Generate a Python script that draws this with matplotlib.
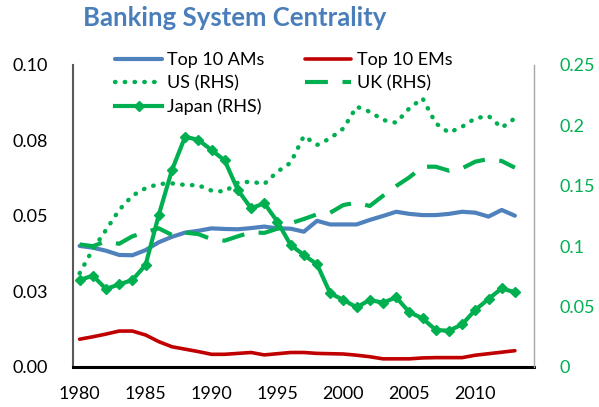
import matplotlib.pyplot as plt
import numpy as np

plt.rcParams['font.family'] = ['Lato', 'DejaVu Sans']

years = np.arange(1980, 2014)

# left axis
top10_ams = [0.0401, 0.0395, 0.0385, 0.0371, 0.0370, 0.0387, 0.0413, 0.0431, 0.0445, 0.0451,
             0.0459, 0.0457, 0.0456, 0.0460, 0.0465, 0.0459, 0.0458, 0.0448, 0.0484, 0.0472,
             0.0472, 0.0472, 0.0487, 0.0500, 0.0514, 0.0507, 0.0503, 0.0503, 0.0507, 0.0514,
             0.0511, 0.0498, 0.0520, 0.0501]
top10_ems = [0.0092, 0.0100, 0.0109, 0.0119, 0.0119, 0.0106, 0.0084, 0.0067, 0.0059, 0.0051,
             0.0042, 0.0042, 0.0045, 0.0048, 0.0040, 0.0044, 0.0048, 0.0048, 0.0045, 0.0044,
             0.0043, 0.0039, 0.0034, 0.0027, 0.0027, 0.0027, 0.0030, 0.0031, 0.0031, 0.0031,
             0.0039, 0.0044, 0.0049, 0.0054]

# right axis
us = [0.0776, 0.0974, 0.1134, 0.1300, 0.1418, 0.1480, 0.1515, 0.1520, 0.1507, 0.1504,
      0.1460, 0.1452, 0.1526, 0.1534, 0.1515, 0.1617, 0.1691, 0.1912, 0.1838, 0.1893,
      0.1975, 0.2155, 0.2113, 0.2045, 0.2022, 0.2142, 0.2224, 0.2017, 0.1940, 0.1989,
      0.2059, 0.2078, 0.1981, 0.2059]
uk = [0.1015, 0.1000, 0.1040, 0.1020, 0.1082, 0.1116, 0.1148, 0.1093, 0.1112, 0.1100,
      0.1058, 0.1046, 0.1082, 0.1115, 0.1110, 0.1145, 0.1190, 0.1225, 0.1264, 0.1277,
      0.1341, 0.1360, 0.1333, 0.1417, 0.1498, 0.1570, 0.1658, 0.1658, 0.1625, 0.1645,
      0.1700, 0.1722, 0.1705, 0.1650]
japan = [0.0720, 0.0756, 0.0646, 0.0684, 0.0720, 0.0844, 0.1258, 0.1630, 0.1906, 0.1880,
         0.1796, 0.1710, 0.1465, 0.1314, 0.1355, 0.1203, 0.1010, 0.0927, 0.0850, 0.0610,
         0.0555, 0.0494, 0.0555, 0.0532, 0.0577, 0.0453, 0.0403, 0.0306, 0.0300, 0.0353,
         0.0472, 0.0563, 0.0651, 0.0618]

left_ticks = [0, 0.025, 0.05, 0.075, 0.1]
left_labels = ['0.00', '0.03', '0.05', '0.08', '0.10']
right_ticks = [0, 0.05, 0.1, 0.15, 0.2, 0.25]
right_labels = ['0', '0.05', '0.1', '0.15', '0.2', '0.25']
x_ticks = [1980, 1985, 1990, 1995, 2000, 2005, 2010]

blue = '#4F81BD'
red = '#C00000'
green = '#00B050'

fig = plt.figure(figsize=(5.99, 4.07), dpi=100)
ax = fig.add_axes([0.1219, 0.0983, 0.7696, 0.742])
ax2 = ax.twinx()

l1, = ax.plot(years, top10_ams, color=blue, lw=3, label='Top 10 AMs', solid_capstyle='round')
l2, = ax.plot(years, top10_ems, color=red, lw=2.6, label='Top 10 EMs', solid_capstyle='round')
l3, = ax2.plot(years, us, color=green, lw=3.2, ls=(0, (0.1, 2.1)), dash_capstyle='round', label='US (RHS)')
l4, = ax2.plot(years, uk, color=green, lw=3, ls=(0, (5.5, 3.5)), label='UK (RHS)')
l5, = ax2.plot(years, japan, color=green, lw=3, marker='D', ms=5.5, label='Japan (RHS)')

ax.set_xlim(1979.5, 2014.45)
ax.set_ylim(0, 0.1)
ax2.set_ylim(0, 0.25)

ax.set_yticks(left_ticks)
ax.set_yticklabels(left_labels)
ax2.set_yticks(right_ticks)
ax2.set_yticklabels(right_labels, color=green)
ax.set_xticks(x_ticks)

for a in (ax, ax2):
    a.tick_params(length=0, labelsize=13, pad=14)
    a.spines['top'].set_visible(False)
ax.tick_params(axis='y', pad=18)
ax2.tick_params(axis='y', pad=18)
ax.spines['left'].set_color('#595959')
ax.spines['left'].set_linewidth(1.5)
ax.spines['right'].set_visible(False)
ax2.spines['left'].set_visible(False)
ax2.spines['bottom'].set_visible(False)
ax2.spines['right'].set_color('#A6A6A6')
ax2.spines['right'].set_linewidth(1)
ax.spines['bottom'].set_color('black')
ax.spines['bottom'].set_linewidth(2.2)

ax2.legend(handles=[l1, l3, l5, l2, l4], ncol=2, frameon=False, fontsize=13,
           loc='upper left', bbox_to_anchor=(0.18, 0.89), bbox_transform=fig.transFigure,
           handlelength=2.6, handletextpad=0.3, columnspacing=2.2, labelspacing=0.4,
           borderaxespad=0)

fig.text(0.139, 0.955, 'Banking System Centrality', fontsize=18.5, fontweight='bold',
         color='#4A7EBB', va='center', ha='left')

fig.savefig('out.png', dpi=100)
